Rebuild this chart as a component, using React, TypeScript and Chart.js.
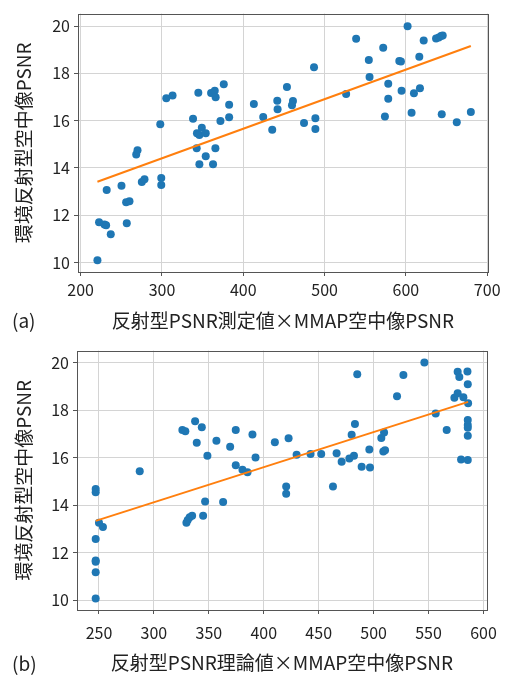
import React, { useEffect, useRef } from "react";
import { Chart, registerables } from "chart.js";

Chart.register(...registerables);

// ---------- Data: panel (a) ----------
const aX = [
  269.9, 297.9, 305.3, 313.0, 338.2, 344.7, 343.0, 349.0, 346.0, 353.8,
  342.7, 365.7, 360.4, 364.9, 366.0, 376.0, 371.9, 382.6, 382.6, 413.0,
  424.5, 435.6, 441.8, 442.2, 453.7, 461.1, 459.9, 474.7, 487.0, 488.7,
  488.7, 526.5, 538.8, 554.4, 555.3, 572.1, 578.3, 578.3, 574.2, 591.9,
  593.9, 594.7, 602.1, 607.0, 609.9, 617.3, 616.5, 621.9, 637.1, 640.4,
  643.3, 645.3, 644.1, 662.6, 679.9,
  268.3, 232.0, 250.2, 222.6, 229.2, 231.3, 237.0, 255.9, 260.0, 256.7,
  220.6, 275.2, 278.5, 299.1, 299.1, 346.0, 353.8, 362.8,
];
const aY = [
  14.75, 15.85, 16.95, 17.07, 16.08, 17.18, 15.47, 15.70, 15.40, 15.47,
  14.83, 14.83, 17.17, 17.27, 16.99, 17.54, 15.99, 16.67, 16.15, 16.71,
  16.16, 15.62, 16.84, 16.48, 17.43, 16.83, 16.65, 15.90, 18.26, 16.10,
  15.65, 17.13, 19.47, 18.57, 17.85, 19.09, 17.56, 16.93, 16.18, 18.53,
  18.50, 17.27, 20.00, 16.34, 17.16, 17.37, 18.71, 19.39, 19.48, 19.52,
  19.58, 19.60, 16.27, 15.93, 16.37,
  14.57, 13.07, 13.25, 11.70, 11.61, 11.58, 11.20, 12.55, 12.59, 11.66,
  10.10, 13.41, 13.52, 13.58, 13.28, 14.16, 14.50, 14.16,
];
const aFitX = [220.6, 679.9];
const aFitY = [13.42, 19.16];
const aXTicks = [200, 300, 400, 500, 600, 700];
const aYTicks = [10, 12, 14, 16, 18, 20];

// ---------- Data: panel (b) ----------
const bX = [
  287.1, 325.9, 328.6, 337.5, 343.6, 339.0, 348.7, 356.9, 369.4, 374.5,
  374.5, 380.6, 385.2, 389.7, 392.5, 410.1, 422.6, 429.9, 442.6, 452.3,
  466.3, 470.9, 477.9, 482.1, 480.0, 483.0, 485.1, 489.1, 496.1, 496.7,
  507.0, 509.5, 508.8, 510.4, 521.3, 527.1, 546.2, 556.5, 566.5, 573.5,
  576.5, 581.7, 576.5, 578.0, 585.4, 585.7, 586.0, 585.7, 585.7, 585.7,
  585.7, 579.6, 585.7,
  247.0, 247.0, 250.0, 253.6, 247.0, 247.0, 247.0, 247.0, 247.0, 329.6,
  330.8, 332.6, 334.8, 344.8, 346.6, 363.0, 420.4, 420.4, 463.0,
];
const bY = [
  15.43, 17.17, 17.12, 17.54, 17.28, 16.63, 16.08, 16.71, 16.46, 17.17,
  15.68, 15.49, 15.39, 16.98, 16.01, 16.65, 16.82, 16.13, 16.16, 16.16,
  16.19, 15.83, 15.97, 16.08, 16.97, 17.42, 19.51, 15.62, 16.35, 15.59,
  16.83, 17.06, 16.26, 16.32, 18.59, 19.48, 20.01, 17.86, 17.17, 18.52,
  18.71, 18.55, 19.62, 19.40, 19.63, 19.09, 18.29, 17.59, 17.38, 17.26,
  16.93, 15.93, 15.90,
  14.68, 14.55, 13.26, 13.08, 12.58, 11.67, 11.62, 11.18, 10.07, 13.26,
  13.38, 13.49, 13.56, 13.56, 14.16, 14.14, 14.79, 14.48, 14.79,
];
const bFitX = [247.0, 586.0];
const bFitY = [13.34, 18.35];
const bXTicks = [250, 300, 350, 400, 450, 500, 550, 600];
const bYTicks = [10, 12, 14, 16, 18, 20];

const yTitle = "環境反射型空中像PSNR";
const aXTitle = "反射型PSNR測定値×MMAP空中像PSNR";
const bXTitle = "反射型PSNR理論値×MMAP空中像PSNR";

const FONT = '"Noto Sans CJK JP", "Noto Sans", sans-serif';

const framePlugin = {
  id: "frame",
  afterDatasetsDraw(chart: any) {
    const { ctx, chartArea } = chart;
    ctx.save();
    ctx.strokeStyle = "#555555";
    ctx.lineWidth = 1;
    ctx.strokeRect(
      Math.round(chartArea.left) + 0.5,
      Math.round(chartArea.top) + 0.5,
      Math.round(chartArea.right - chartArea.left),
      Math.round(chartArea.bottom - chartArea.top)
    );
    ctx.restore();
  },
};

type PanelProps = {
  xs: number[];
  ys: number[];
  fitX: number[];
  fitY: number[];
  xTicks: number[];
  yTicks: number[];
  xMin: number;
  xMax: number;
  yMin: number;
  yMax: number;
  xTitle: string;
  label: string;
  top: number;
  height: number;
  padTop: number;
  padRight: number;
  yAxisWidth: number;
  xAxisHeight: number;
  xTickPad: number;
  xTitlePadBottom: number;
  labelY: number;
};

function Panel(p: PanelProps) {
  const ref = useRef<HTMLCanvasElement | null>(null);
  useEffect(() => {
    if (!ref.current) return;
    const n = Math.min(p.xs.length, p.ys.length);
    const pts = [];
    for (let i = 0; i < n; i++) pts.push({ x: p.xs[i], y: p.ys[i] });
    const fit = p.fitX.map((x, i) => ({ x, y: p.fitY[i] }));
    const chart = new Chart(ref.current, {
      type: "scatter",
      data: {
        datasets: [
          {
            type: "scatter",
            data: pts,
            backgroundColor: "#1f77b4",
            borderColor: "#1f77b4",
            borderWidth: 0,
            pointRadius: 4,
            order: 2,
          },
          {
            type: "line",
            data: fit,
            borderColor: "#ff7f0e",
            borderWidth: 2,
            pointRadius: 0,
            fill: false,
            order: 1,
          } as any,
        ],
      },
      options: {
        responsive: false,
        animation: false,
        events: [],
        layout: {
          padding: { top: p.padTop, right: p.padRight, left: 0, bottom: 0 },
        },
        plugins: {
          legend: { display: false },
          tooltip: { enabled: false },
        },
        scales: {
          x: {
            type: "linear",
            min: p.xMin,
            max: p.xMax,
            afterBuildTicks: (s: any) => {
              s.ticks = p.xTicks.map((v) => ({ value: v }));
            },
            afterFit: (s: any) => {
              s.height = p.xAxisHeight;
            },
            grid: {
              color: "#d4d4d4",
              lineWidth: 1,
              drawTicks: true,
              tickLength: 4,
              tickColor: "#555555",
            },
            border: { display: false },
            ticks: {
              color: "#222222",
              padding: p.xTickPad,
              maxRotation: 0,
              font: { family: FONT, size: 16 },
              callback: (v: any) => String(v),
            },
            title: {
              display: true,
              text: p.xTitle,
              color: "#222222",
              font: { family: FONT, size: 19 },
              padding: { top: 0, bottom: p.xTitlePadBottom },
            },
          },
          y: {
            type: "linear",
            min: p.yMin,
            max: p.yMax,
            afterBuildTicks: (s: any) => {
              s.ticks = p.yTicks.map((v) => ({ value: v }));
            },
            afterFit: (s: any) => {
              s.width = p.yAxisWidth;
            },
            grid: {
              color: "#d4d4d4",
              lineWidth: 1,
              drawTicks: true,
              tickLength: 4,
              tickColor: "#555555",
            },
            border: { display: false },
            ticks: {
              color: "#222222",
              padding: 4,
              font: { family: FONT, size: 16 },
              callback: (v: any) => String(v),
            },
            title: {
              display: true,
              text: yTitle,
              color: "#222222",
              font: { family: FONT, size: 19 },
              padding: { top: 12, bottom: 0 },
            },
          },
        },
      },
      plugins: [framePlugin],
    });
    return () => chart.destroy();
  }, []);

  return (
    <div
      style={{
        position: "absolute",
        left: 0,
        top: p.top,
        width: 508,
        height: p.height,
      }}
    >
      <canvas
        ref={ref}
        width={508}
        height={p.height}
        style={{ width: 508, height: p.height, display: "block" }}
      />
      <span
        style={{
          position: "absolute",
          left: 12,
          top: p.labelY - 13,
          fontFamily: FONT,
          fontSize: 19,
          lineHeight: "26px",
          color: "#222222",
        }}
      >
        {p.label}
      </span>
    </div>
  );
}

export default function App() {
  return (
    <div
      style={{
        position: "absolute",
        left: 0,
        top: 0,
        width: 508,
        height: 675,
        background: "#ffffff",
        overflow: "hidden",
      }}
    >
      <Panel
        xs={aX}
        ys={aY}
        fitX={aFitX}
        fitY={aFitY}
        xTicks={aXTicks}
        yTicks={aYTicks}
        xMin={196.7}
        xMax={701}
        yMin={9.6}
        yMax={20.53}
        xTitle={aXTitle}
        label="(a)"
        top={0}
        height={337}
        padTop={6}
        padRight={20}
        yAxisWidth={78}
        xAxisHeight={65}
        xTickPad={4}
        xTitlePadBottom={5}
        labelY={320}
      />
      <Panel
        xs={bX}
        ys={bY}
        fitX={bFitX}
        fitY={bFitY}
        xTicks={bXTicks}
        yTicks={bYTicks}
        xMin={230}
        xMax={603.2}
        yMin={9.59}
        yMax={20.51}
        xTitle={bXTitle}
        label="(b)"
        top={337}
        height={338}
        padTop={8}
        padRight={21}
        yAxisWidth={77}
        xAxisHeight={65}
        xTickPad={9}
        xTitlePadBottom={1}
        labelY={326}
      />
    </div>
  );
}
